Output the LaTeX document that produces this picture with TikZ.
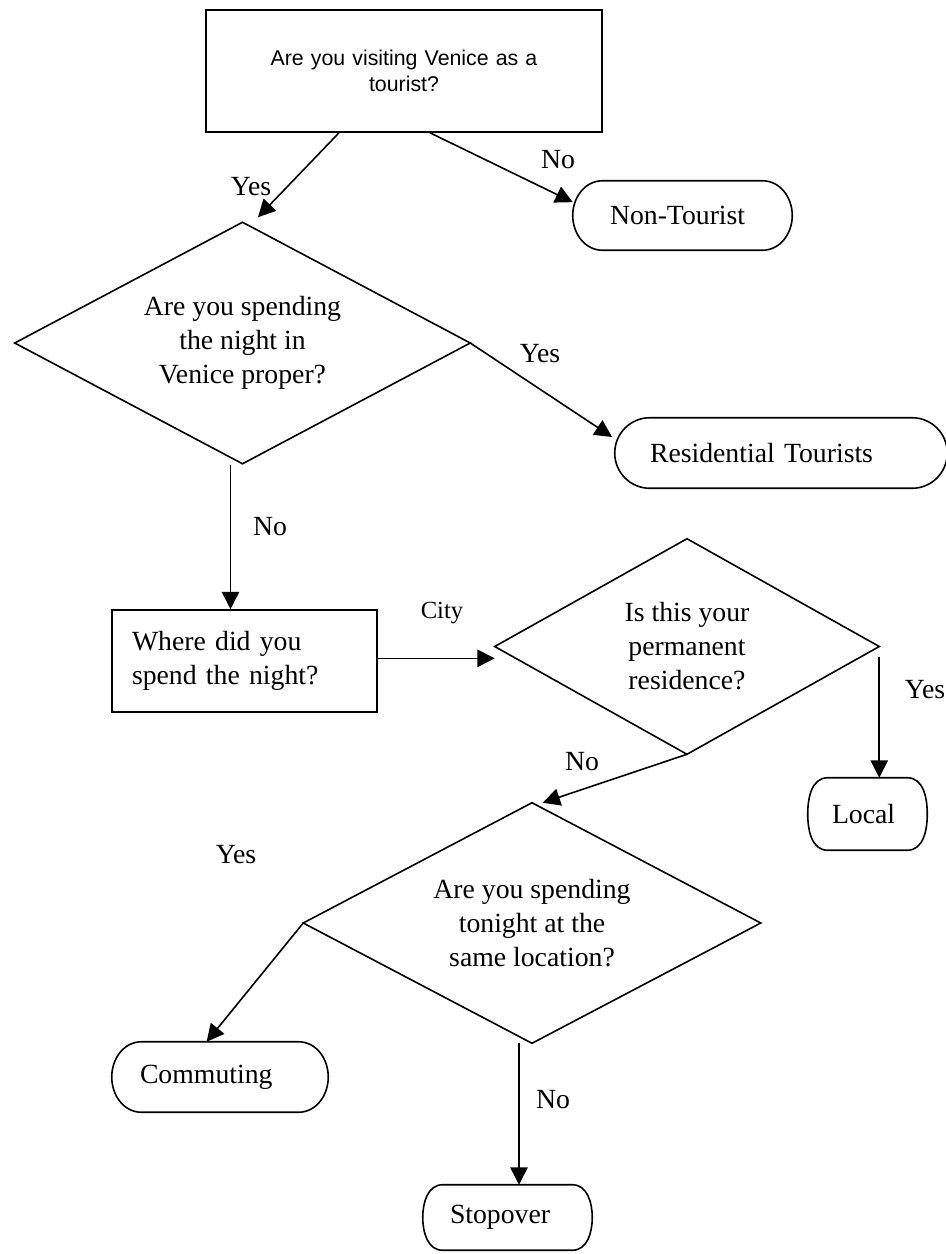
\documentclass[tikz,border=0pt]{standalone}
\usepackage{fontspec}
\setmainfont{Liberation Serif}
\newfontfamily\arialfont{Liberation Sans}
\usetikzlibrary{arrows.meta,calc}
\newcommand{\termoutline}[2]{%
  \draw[outl] ($(#1.north west)+(#2,0)$) -- ($(#1.north east)+(-#2,0)$)
    to[out=0,in=90] (#1.east) to[out=-90,in=0] ($(#1.south east)+(-#2,0)$)
    -- ($(#1.south west)+(#2,0)$) to[out=180,in=-90] (#1.west)
    to[out=90,in=180] cycle;}
\newcommand{\diaoutline}[1]{%
  \draw[outl] (#1.north) -- (#1.east) -- (#1.south) -- (#1.west) -- cycle;}
\begin{document}
\begin{tikzpicture}[x=0.75pt,y=-0.75pt,
  outl/.style={line width=1.2pt, line join=miter},
  arr/.style={line width=1.2pt, -{Triangle[length=13pt,width=13pt]}},
  serif/.style={font=\fontsize{20.8}{25.5}\selectfont},
  lbl/.style={serif, inner sep=0},
  qbox/.style={draw, line width=1.2pt, rectangle, inner ysep=0},
  term/.style={rectangle, inner ysep=0, align=left, serif},
  dia/.style={rectangle, inner sep=0, align=center, serif}]
\useasboundingbox (0,0) rectangle (946,1254);

% nodes
\node[qbox, minimum width=297pt, minimum height=91.5pt, text width=225pt, align=center,
  font=\arialfont\fontsize{16}{20}\selectfont] (q1) at (404,71)
  {Are you visiting Venice as a\\tourist?};
\node[term, minimum width=164.25pt, minimum height=51.75pt, inner xsep=27.75pt, text width=108.75pt] (nt) at (682.5,215.5) {Non-Tourist};
\node[dia, minimum width=341.25pt, minimum height=180.75pt] (d1) at (242.5,343)
  {Are you spending\\the night in\\Venice proper?};
\node[term, minimum width=249pt, minimum height=52.5pt, inner xsep=26.25pt, text width=196.5pt] (res) at (781,453) {Residential Tourists};
\node[qbox, serif, minimum width=198.75pt, minimum height=76.5pt, inner xsep=15pt, text width=168.75pt, align=left] (q3) at (244.5,661)
  {Where did you\\spend the night?};
\node[dia, minimum width=288pt, minimum height=161.25pt] (d2) at (687,646.5)
  {Is this your\\permanent\\residence?};
\node[term, minimum width=89.25pt, minimum height=54pt, inner xsep=18pt, text width=53.25pt] (loc) at (867.5,814) {Local};
\node[dia, minimum width=342.75pt, minimum height=180pt] (d3) at (532,923)
  {Are you spending\\tonight at the\\same location?};
\node[term, minimum width=162pt, minimum height=52.5pt, inner xsep=21pt, text width=120pt] (com) at (220,1077) {Commuting};
\node[term, minimum width=126.75pt, minimum height=48.75pt, inner xsep=20.25pt, text width=86.25pt] (stop) at (507.5,1217.5) {Stopover};

% outlines
\termoutline{nt}{30}
\termoutline{res}{35}
\termoutline{loc}{20}
\termoutline{com}{30}
\termoutline{stop}{20}
\diaoutline{d1}
\diaoutline{d2}
\diaoutline{d3}

% connectors
\draw[arr] ([xshift=-48.75pt]q1.south) -- ([xshift=11.6pt,yshift=3.75pt]d1.north);
\draw[arr] ([xshift=19.5pt]q1.south) -- ([yshift=10pt]nt.west);
\draw[arr] (d1.east) -- ([xshift=-2pt,yshift=12pt]res.west);
\draw[arr] ([xshift=-9pt,yshift=-1pt]d1.south) -- ([xshift=-9pt]d1.south |- q3.north);
\draw[arr] ([yshift=2pt]q3.east) -- ([yshift=2pt]q3.east -| d2.west);
\draw[arr] ([yshift=-8pt]d2.east) -- (d2.east |- loc.north);
\draw[arr] (d2.south) -- ([xshift=8pt]d3.north);
\draw[arr] (d3.west) -- ([xshift=-10pt]com.north);
\draw[arr] ([xshift=-9.75pt]d3.south) -- ([xshift=-9.75pt]d3.south |- stop.north);

% labels
\node[lbl] (l1) at (251,187) {Yes};
\node[lbl] (l2) at (558,160) {No};
\node[lbl] (l3) at (540,354) {Yes};
\node[lbl] (l4) at (270,527) {No};
\node[lbl, font=\fontsize{18.5}{22}\selectfont] (l5) at (442,613) {City};
\node[lbl] (l6) at (925,690) {Yes};
\node[lbl] (l7) at (582,762) {No};
\node[lbl] (l8) at (236,855) {Yes};
\node[lbl] (l9) at (553,1100) {No};
\end{tikzpicture}
\end{document}
